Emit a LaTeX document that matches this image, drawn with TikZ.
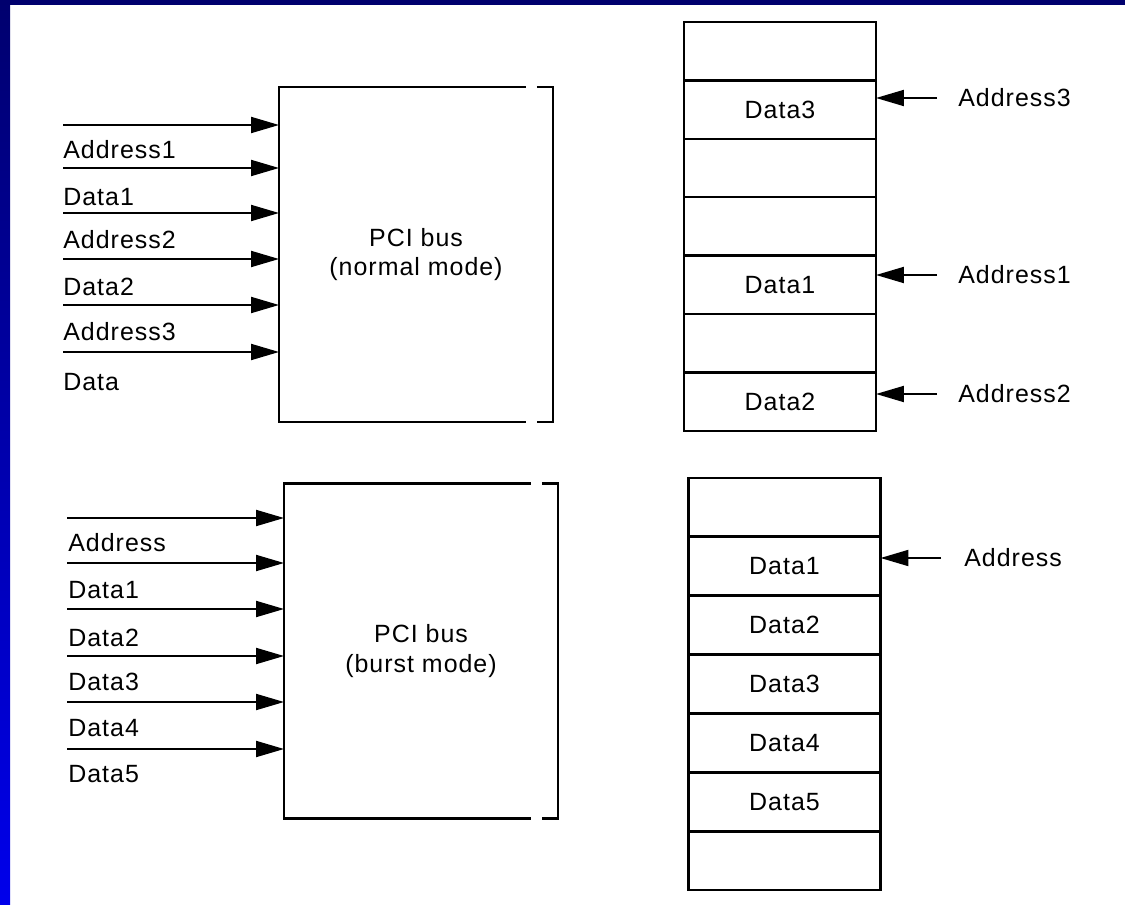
\documentclass[tikz,border=0pt]{standalone}
\usepackage{fontspec}
\setmainfont{Liberation Sans}[LetterSpace=4.0]
\usetikzlibrary{arrows.meta,calc,positioning}

\definecolor{navy}{RGB}{0,0,110}
\definecolor{slideblue}{RGB}{0,0,235}

\begin{document}
\begin{tikzpicture}[
    x=0.02cm, y=-0.02cm,
    bus/.style={rectangle, minimum width=5.48cm, minimum height=6.7cm, align=center, outer sep=0pt, font=\fontsize{14.2}{17}\selectfont},
    cell/.style={rectangle, draw, line width=1.4pt, minimum width=3.84cm, minimum height=1.17cm, outer sep=0pt, font=\fontsize{14.2}{16}\selectfont},
    lbl/.style={anchor=west, inner sep=0pt, font=\fontsize{14.2}{16}\selectfont},
    arrow/.style={-{Triangle[length=5.6mm, width=3.2mm]}, line width=1.1pt},
    edge/.style={line width=1.3pt}
]
    \useasboundingbox (0,0) rectangle (1125,905);

    % Slide border
    \shade[top color=navy, bottom color=slideblue] (0,0) rectangle (10,905);
    \fill[navy] (0,0) rectangle (1125,5);

    % Normal mode
    \node[bus] (normal) at (416,254.5) {PCI bus\\(normal mode)};
    \draw[edge] ($(normal.north east)+(-27,0)$) -- (normal.north west) -- (normal.south west) -- ($(normal.south east)+(-27,0)$);
    \draw[edge] ($(normal.north east)+(-16,0)$) -- (normal.north east) -- (normal.south east) -- ($(normal.south east)+(-16,0)$);
    \foreach \ay/\ly/\t [count=\i] in {125/150/Address1, 168/197/Data1, 213/240/Address2, 259/287/Data2, 305/332/Address3, 352/382/Data} {
        \coordinate (nin\i) at (63,\ay);
        \draw[arrow] (nin\i) -- (nin\i -| normal.west);
        \node[lbl] (nlbl\i) at (63,\ly) {\t};
    }

    % Memory, normal mode
    \foreach \t [count=\i] in {{}, Data3, {}, {}, Data1, {}, Data2} {
        \node[cell] (top\i) at (780,{51.2+58.4*(\i-1)}) {\t};
    }
    \foreach \r/\ay/\t in {2/98/Address3, 5/275/Address1, 7/394/Address2} {
        \coordinate (tin\r) at (937,\ay);
        \draw[arrow] (tin\r) -- (tin\r -| top\r.east);
        \node[lbl] (tlbl\r) at (958,\ay) {\t};
    }

    % Burst mode
    \node[bus] (burst) at (421,651) {PCI bus\\(burst mode)};
    \draw[edge] ($(burst.north east)+(-27,0)$) -- (burst.north west) -- (burst.south west) -- ($(burst.south east)+(-27,0)$);
    \draw[edge] ($(burst.north east)+(-16,0)$) -- (burst.north east) -- (burst.south east) -- ($(burst.south east)+(-16,0)$);
    \foreach \ay/\ly/\t [count=\i] in {518/543/Address, 563/590/Data1, 609/638/Data2, 656/682/Data3, 702/728/Data4, 749/774/Data5} {
        \coordinate (bin\i) at (67,\ay);
        \draw[arrow] (bin\i) -- (bin\i -| burst.west);
        \node[lbl] (blbl\i) at (68,\ly) {\t};
    }

    % Memory, burst mode
    \foreach \t [count=\i] in {{}, Data1, Data2, Data3, Data4, Data5, {}} {
        \node[cell] (bot\i) at (784.5,{507.4+58.86*(\i-1)}) {\t};
    }
    \coordinate (ain) at (941,558);
    \draw[arrow] (ain) -- (ain -| bot2.east);
    \node[lbl] (albl) at (964,558) {Address};
\end{tikzpicture}
\end{document}
